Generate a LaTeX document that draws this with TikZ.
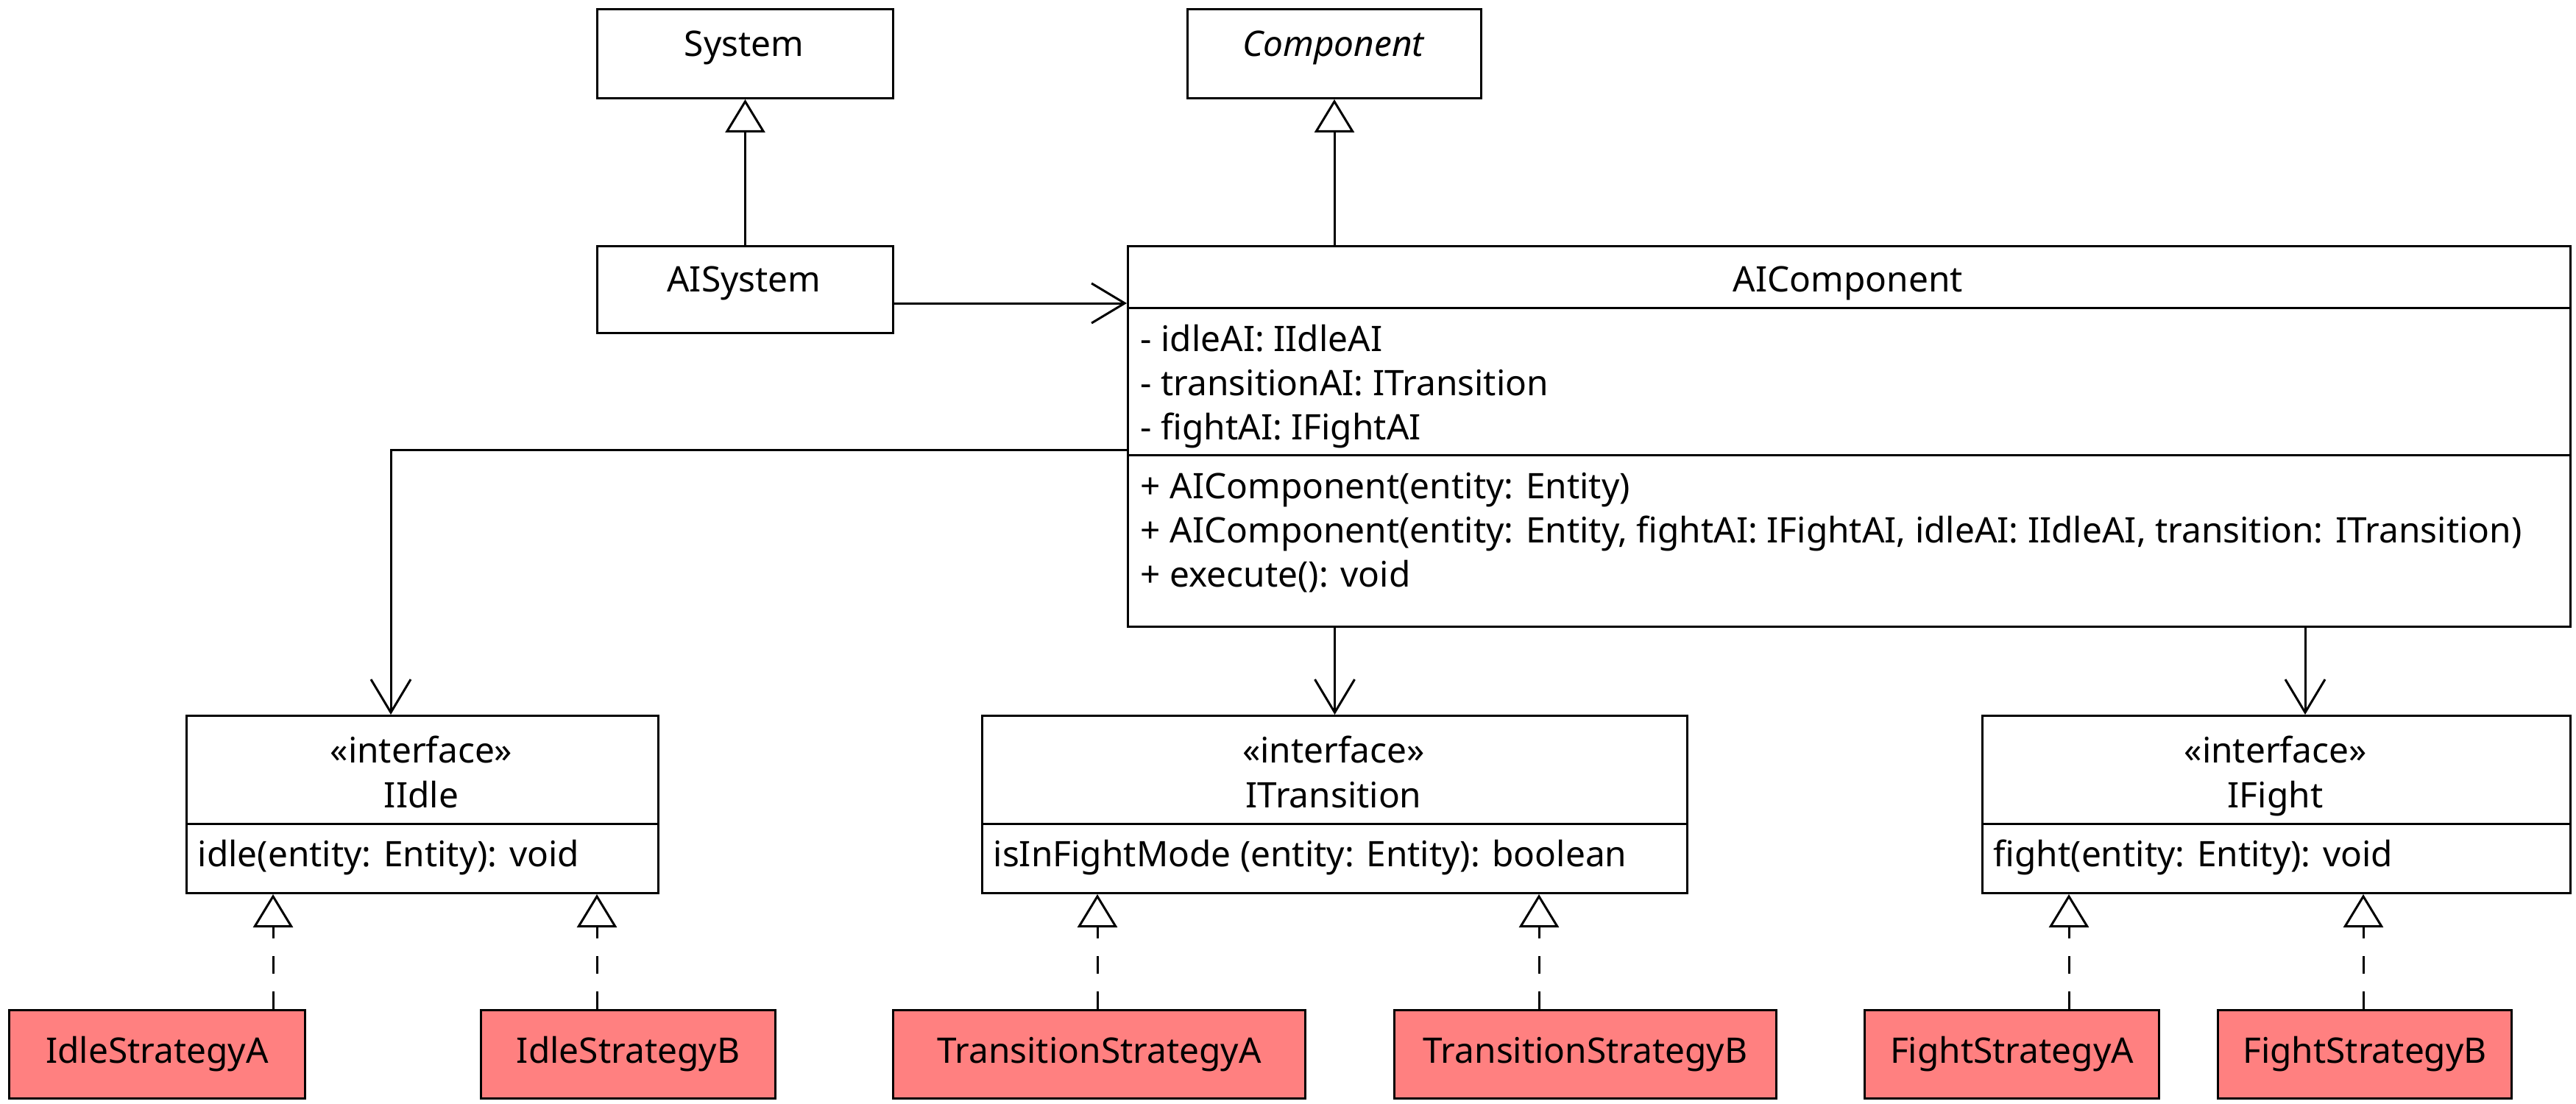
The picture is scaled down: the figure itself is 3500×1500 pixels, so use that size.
\documentclass[tikz,border=0pt]{standalone}
\usepackage{fontspec}
\setmainfont{Noto Sans}
\usepackage{xcolor}
\usepackage{tikz}
\usetikzlibrary{arrows.meta, calc}
\definecolor{UMLInk}{RGB}{0, 0, 0}
\definecolor{UMLRed}{RGB}{255, 128, 128}

\tikzset{
  umlbox/.style={draw=UMLInk, line width=0.3mm, fill=white, anchor=north west, inner sep=0pt},
  implbox/.style={umlbox, fill=UMLRed, minimum height=12mm, font=\fontsize{13.6}{16}\selectfont},
  umltext/.style={inner sep=0pt, anchor=base, font=\fontsize{13.6}{16}\selectfont},
  umlleft/.style={umltext, anchor=base west},
  umlsep/.style={draw=UMLInk, line width=0.3mm},
  generalize/.style={draw=UMLInk, line width=0.3mm, -{Triangle[open, length=4.5mm, width=5.4mm]}},
  realize/.style={generalize, dash pattern=on 2.4mm off 2.4mm},
  assoc/.style={draw=UMLInk, line width=0.3mm, -{Straight Barb[length=4.5mm, width=5.4mm]}}
}

\begin{document}
\begin{tikzpicture}[x=0.1mm,y=-0.1mm]
  \path[use as bounding box] (0,0) rectangle (3500,1500);

  % Base classes
  \node[umlbox, minimum width=40.2mm, minimum height=12.1mm] (sys) at (810,11) {};
  \node[umltext] (sysName) at (1011,77) {System};
  \node[umlbox, minimum width=39.9mm, minimum height=12.1mm] (comp) at (1612,11) {};
  \node[umltext] (compName) at (1811.5,77) {\itshape Component};

  % AISystem
  \node[umlbox, minimum width=40.2mm, minimum height=11.8mm] (aisys) at (810,333) {};
  \node[umltext] (aisysName) at (1011,397) {AISystem};

  % AIComponent
  \node[umlbox, minimum width=196mm, minimum height=51.7mm] (aicomp) at (1531,333) {};
  \node[umltext] (aicompName) at (2511,397) {AIComponent};
  \draw[umlsep] ($(aicomp.north west)+(0,85)$) -- ($(aicomp.north east)+(0,85)$);
  \node[umlleft] (attrIdle) at (1549,477) {- idleAI: IIdleAI};
  \node[umlleft] (attrTrans) at (1549,537) {- transitionAI: ITransition};
  \node[umlleft] (attrFight) at (1549,597) {- fightAI: IFightAI};
  \draw[umlsep] ($(aicomp.north west)+(0,285)$) -- ($(aicomp.north east)+(0,285)$);
  \node[umlleft] (opCtorA) at (1549,677) {+ AIComponent(entity: Entity)};
  \node[umlleft] (opCtorB) at (1549,737) {+ AIComponent(entity: Entity, fightAI: IFightAI, idleAI: IIdleAI, transition: ITransition)};
  \node[umlleft] (opExec) at (1549,797) {+ execute(): void};

  % Interfaces
  \node[umlbox, minimum width=64.1mm, minimum height=24.1mm] (iidle) at (252,971) {};
  \node[umltext] (iidleStereo) at (572.5,1036) {«interface»};
  \node[umltext] (iidleName) at (572.5,1097) {IIdle};
  \draw[umlsep] ($(iidle.north west)+(0,148)$) -- ($(iidle.north east)+(0,148)$);
  \node[umlleft] (iidleOp) at (268,1177) {idle(entity: Entity): void};

  \node[umlbox, minimum width=95.8mm, minimum height=24.1mm] (itrans) at (1333,971) {};
  \node[umltext] (itransStereo) at (1812,1036) {«interface»};
  \node[umltext] (itransName) at (1812,1097) {ITransition};
  \draw[umlsep] ($(itrans.north west)+(0,148)$) -- ($(itrans.north east)+(0,148)$);
  \node[umlleft] (itransOp) at (1349,1177) {isInFightMode (entity: Entity): boolean};

  \node[umlbox, minimum width=79.9mm, minimum height=24.1mm] (ifight) at (2692,971) {};
  \node[umltext] (ifightStereo) at (3091.5,1036) {«interface»};
  \node[umltext] (ifightName) at (3091.5,1097) {IFight};
  \draw[umlsep] ($(ifight.north west)+(0,148)$) -- ($(ifight.north east)+(0,148)$);
  \node[umlleft] (ifightOp) at (2708,1177) {fight(entity: Entity): void};

  % Strategies
  \node[implbox, minimum width=40.2mm] (idleA) at (11,1371) {IdleStrategyA};
  \node[implbox, minimum width=40mm] (idleB) at (652,1371) {IdleStrategyB};
  \node[implbox, minimum width=56mm] (transA) at (1212,1371) {TransitionStrategyA};
  \node[implbox, minimum width=51.9mm] (transB) at (1893,1371) {TransitionStrategyB};
  \node[implbox, minimum width=40mm] (fightA) at (2532,1371) {FightStrategyA};
  \node[implbox, minimum width=39.9mm] (fightB) at (3012,1371) {FightStrategyB};

  % Inheritance
  \draw[generalize] (aisys.north) -- (sys.south);
  \draw[generalize] (comp.south |- aicomp.north) -- (comp.south);

  % Associations
  \coordinate (sysLink) at (0,412);
  \draw[assoc] (aisys.east |- sysLink) -- (aicomp.west |- sysLink);
  \coordinate (idleBend) at (531,611);
  \draw[assoc] (aicomp.west |- idleBend) -- (idleBend) -- (idleBend |- iidle.north);
  \draw[assoc] (itrans.north |- aicomp.south) -- (itrans.north);
  \coordinate (fightLink) at (3132,0);
  \draw[assoc] (aicomp.south -| fightLink) -- (ifight.north -| fightLink);

  % Realizations
  \coordinate (idleAx) at (371,0);
  \coordinate (idleBx) at (811,0);
  \coordinate (transAx) at (1491,0);
  \coordinate (transBx) at (2091,0);
  \coordinate (fightAx) at (2811,0);
  \coordinate (fightBx) at (3211,0);
  \draw[realize] (idleA.north -| idleAx) -- (iidle.south -| idleAx);
  \draw[realize] (idleB.north -| idleBx) -- (iidle.south -| idleBx);
  \draw[realize] (transA.north -| transAx) -- (itrans.south -| transAx);
  \draw[realize] (transB.north -| transBx) -- (itrans.south -| transBx);
  \draw[realize] (fightA.north -| fightAx) -- (ifight.south -| fightAx);
  \draw[realize] (fightB.north -| fightBx) -- (ifight.south -| fightBx);
\end{tikzpicture}
\end{document}
